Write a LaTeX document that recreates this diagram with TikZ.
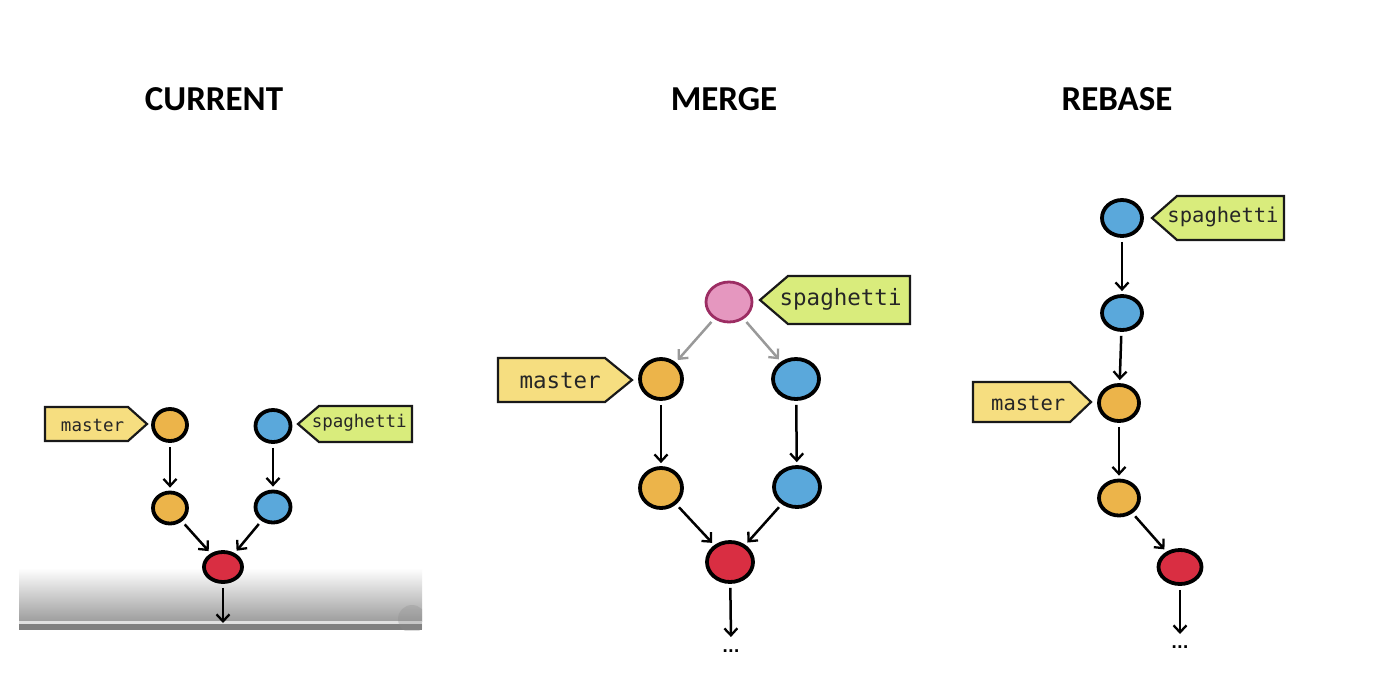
\documentclass[tikz,border=0pt]{standalone}
\usepackage{fontspec}
\setmonofont{DejaVu Sans Mono}
\newfontfamily\titlefont{Carlito}
\newfontfamily\dotfont{DejaVu Sans}
\usetikzlibrary{shapes.geometric,arrows.meta}
\definecolor{orangec}{HTML}{ECB44A}
\definecolor{bluec}{HTML}{5AA8DB}
\definecolor{redc}{HTML}{D92E42}
\definecolor{pinkc}{HTML}{E597BF}
\definecolor{pinkline}{HTML}{9C2D63}
\definecolor{masterc}{HTML}{F6DE80}
\definecolor{spagc}{HTML}{D9EC7C}
\tikzset{
  commit/.style={ellipse, draw=black, line width=3.8pt, inner sep=0pt},
  orangecommit/.style={commit, fill=orangec},
  bluecommit/.style={commit, fill=bluec},
  redcommit/.style={commit, fill=redc},
  pinkcommit/.style={commit, fill=pinkc, draw=pinkline, line width=2.8pt},
  link/.style={line width=2.5pt, black, -{Straight Barb[length=7pt,width=13pt,line width=2.3pt]}, shorten >=3pt, shorten <=4pt},
  greylink/.style={link, color=black!40},
  tagline/.style={draw=black!90, line width=2.2pt, line join=miter},
  tagtext/.style={inner sep=0pt, text=black!85},
  title/.style={font=\titlefont\bfseries\fontsize{35}{35}\selectfont, inner sep=0pt},
  dots/.style={font=\dotfont\bfseries\fontsize{15}{15}\selectfont, inner sep=0pt}
}
% tag pointing right: name, tipx, tipy, leftx, halfh, depth, fontsize
\newcommand\tagright[7]{%
  \draw[tagline, fill=masterc] (#2,#3) -- ({#2-#6},{#3-#5}) -- (#4,{#3-#5}) -- (#4,{#3+#5}) -- ({#2-#6},{#3+#5}) -- cycle;
  \node[tagtext, font=\ttfamily\fontsize{#7}{#7}\selectfont] (#1) at ({(#4+#2-#6)/2+0.32*#6},{#3+1}) {master};
}
% tag pointing left: name, tipx, tipy, rightx, halfh, depth, fontsize
\newcommand\tagleft[7]{%
  \draw[tagline, fill=spagc] (#2,#3) -- ({#2+#6},{#3-#5}) -- (#4,{#3-#5}) -- (#4,{#3+#5}) -- ({#2+#6},{#3+#5}) -- cycle;
  \node[tagtext, font=\ttfamily\fontsize{#7}{#7}\selectfont] (#1) at ({(#4+#2+#6)/2-0.3*#6},{#3-1}) {spaghetti};
}
\begin{document}
\begin{tikzpicture}[x=1pt,y=-1pt]
\path[use as bounding box, fill=white] (0,0) rectangle (1396,699);

% titles
\node[title] (tcur) at (214,99) {CURRENT};
\node[title] (tmer) at (724,99) {MERGE};
\node[title] (treb) at (1117,99) {REBASE};

% ---------- CURRENT ----------
\shade[top color=white, bottom color=black!38] (19,568) rectangle (422,621);
\fill[black!12] (19,621) rectangle (422,623.5);
\fill[black!50] (19,623.5) rectangle (422,630);
\begin{scope}
  \clip (19,568) rectangle (422,630);
  \fill[black!45, opacity=0.3] (412,619) circle[radius=14];
\end{scope}

\node[orangecommit, minimum width=34pt, minimum height=32pt] (cm1) at (170,425) {};
\node[bluecommit, minimum width=35pt, minimum height=32pt] (cs1) at (273,426) {};
\node[orangecommit, minimum width=34pt, minimum height=31pt] (cm2) at (170,508) {};
\node[bluecommit, minimum width=35pt, minimum height=31pt] (cs2) at (273,507) {};
\node[redcommit, minimum width=38pt, minimum height=30pt] (cr) at (223,567) {};
\coordinate (cend) at (223,626);
\draw[link] (cm1) -- (cm2);
\draw[link] (cs1) -- (cs2);
\draw[link] (cm2) -- (cr);
\draw[link] (cs2) -- (cr);
\draw[link] (cr) -- (cend);
\tagright{cmtag}{147}{424}{45}{17}{19}{17.5}
\tagleft{cstag}{298}{424}{412}{18}{21}{17.5}

% ---------- MERGE ----------
\node[pinkcommit, minimum width=46pt, minimum height=40pt] (mp) at (729,302) {};
\node[orangecommit, minimum width=42pt, minimum height=40pt] (mm1) at (661,379) {};
\node[bluecommit, minimum width=46pt, minimum height=40pt] (mb1) at (796,379) {};
\node[orangecommit, minimum width=42pt, minimum height=40pt] (mm2) at (661,488) {};
\node[bluecommit, minimum width=46pt, minimum height=40pt] (mb2) at (797,487) {};
\node[redcommit, minimum width=46pt, minimum height=40pt] (mr) at (730,562) {};
\coordinate (mend) at (731,640);
\node[dots] (mdots) at (731,651) {...};
\draw[greylink] (mp) -- (mm1);
\draw[greylink] (mp) -- (mb1);
\draw[link] (mm1) -- (mm2);
\draw[link] (mb1) -- (mb2);
\draw[link] (mm2) -- (mr);
\draw[link] (mb2) -- (mr);
\draw[link] (mr) -- (mend);
\tagright{mmtag}{632}{380}{498}{22}{27}{22.5}
\tagleft{mstag}{760}{300}{910}{24}{28}{22.5}

% ---------- REBASE ----------
\node[bluecommit, minimum width=40pt, minimum height=36pt] (rb1) at (1122,218) {};
\node[bluecommit, minimum width=40pt, minimum height=34pt] (rb2) at (1122,313) {};
\node[orangecommit, minimum width=40pt, minimum height=36pt] (rm1) at (1119,403) {};
\node[orangecommit, minimum width=40pt, minimum height=35pt] (rm2) at (1119,498) {};
\node[redcommit, minimum width=43pt, minimum height=34pt] (rr) at (1180,567) {};
\coordinate (rend) at (1180,637);
\node[dots] (rdots) at (1180,647) {...};
\draw[link] (rb1) -- (rb2);
\draw[link] (rb2) -- (rm1);
\draw[link] (rm1) -- (rm2);
\draw[link] (rm2) -- (rr);
\draw[link] (rr) -- (rend);
\tagright{rmtag}{1091}{402}{973}{20}{21}{20.5}
\tagleft{rstag}{1152}{218}{1284}{22}{25}{20.5}
\end{tikzpicture}
\end{document}
